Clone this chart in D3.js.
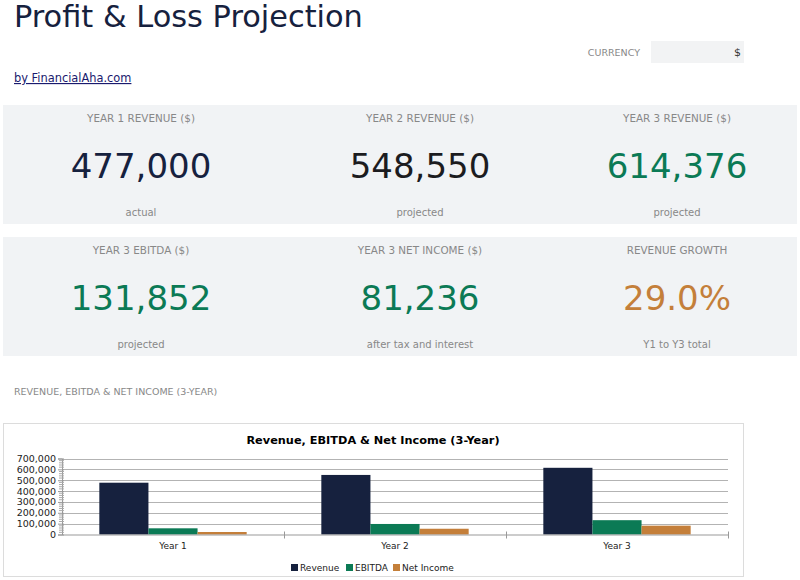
<!DOCTYPE html>
<html>
<head>
<meta charset="utf-8">
<script src="https://cdn.jsdelivr.net/npm/d3@7"></script>
<style>
  body { margin: 0; background: #fff; font-family: "DejaVu Sans", sans-serif; }
  svg { display: block; }
</style>
</head>
<body>
<svg id="page" width="800" height="580"></svg>
<script>
// KPI cards
const kpiLabels = ["YEAR 1 REVENUE ($)", "YEAR 2 REVENUE ($)", "YEAR 3 REVENUE ($)",
                   "YEAR 3 EBITDA ($)", "YEAR 3 NET INCOME ($)", "REVENUE GROWTH"];
const kpiValues = ["477,000", "548,550", "614,376", "131,852", "81,236", "29.0%"];
const kpiNotes = ["actual", "projected", "projected", "projected", "after tax and interest", "Y1 to Y3 total"];
const kpiColors = ["#16213e", "#1c1c1f", "#0b7a55", "#0b7a55", "#0b7a55", "#c47f3a"];

// chart data
const years = ["Year 1", "Year 2", "Year 3"];
const seriesNames = ["Revenue", "EBITDA", "Net Income"];
const revenue = [477000, 548550, 614376];
const ebitda = [57000, 97000, 131852];
const netIncome = [23000, 53000, 81236];
const seriesColors = ["#16213e", "#0b7a55", "#c47f3a"];
const yTicks = [0, 100000, 200000, 300000, 400000, 500000, 600000, 700000];

const svg = d3.select("#page");

// header
svg.append("text").attr("x", 14).attr("y", 27)
  .attr("font-size", 30.4).attr("fill", "#16213e")
  .text("Profit & Loss Projection");

svg.append("text").attr("x", 640).attr("y", 55.5)
  .attr("text-anchor", "end").attr("font-size", 9.5).attr("fill", "#888")
  .text("CURRENCY");
svg.append("rect").attr("x", 651).attr("y", 41).attr("width", 93).attr("height", 22)
  .attr("fill", "#f2f3f4");
svg.append("text").attr("x", 741).attr("y", 56)
  .attr("text-anchor", "end").attr("font-size", 11).attr("fill", "#333")
  .text("$");

svg.append("text").attr("x", 14).attr("y", 82)
  .attr("font-size", 11.4).attr("fill", "#1a1a6e")
  .attr("text-decoration", "underline")
  .text("by FinancialAha.com");

// KPI panels
const colCenters = [141, 420, 677];
const panelTops = [105, 237];
panelTops.forEach(top => {
  svg.append("rect").attr("x", 3).attr("y", top).attr("width", 794).attr("height", 119)
    .attr("fill", "#f1f3f5");
});

const cards = svg.append("g").selectAll("g")
  .data(kpiValues.map((v, i) => ({ value: v, label: kpiLabels[i], note: kpiNotes[i], color: kpiColors[i], i })))
  .enter().append("g")
  .attr("transform", d => `translate(${colCenters[d.i % 3]},${panelTops[Math.floor(d.i / 3)]})`);

cards.append("text").attr("y", 16.5).attr("text-anchor", "middle")
  .attr("font-size", 10.4).attr("fill", "#888").text(d => d.label);
cards.append("text").attr("y", 73).attr("text-anchor", "middle")
  .attr("font-size", 34).attr("fill", d => d.color).text(d => d.value);
cards.append("text").attr("y", 111).attr("text-anchor", "middle")
  .attr("font-size", 10).attr("fill", "#888").text(d => d.note);

// section label
svg.append("text").attr("x", 14).attr("y", 395)
  .attr("font-size", 9.5).attr("fill", "#888")
  .text("REVENUE, EBITDA & NET INCOME (3-YEAR)");

// chart box
svg.append("rect").attr("x", 3.5).attr("y", 423.5).attr("width", 740).attr("height", 153)
  .attr("fill", "#fff").attr("stroke", "#dcdcdc");

svg.append("text").attr("x", 373).attr("y", 444)
  .attr("text-anchor", "middle").attr("font-size", 11.3).attr("font-weight", "bold")
  .attr("fill", "#000")
  .text("Revenue, EBITDA & Net Income (3-Year)");

const plot = { left: 62, right: 728, top: 458.5, bottom: 534.5 };

const y = d3.scaleLinear().domain([0, 700000]).range([plot.bottom, plot.top]);
const x0 = d3.scaleBand().domain(years).range([plot.left, plot.right]).paddingInner(0).paddingOuter(0);
const x1 = d3.scaleBand().domain(seriesNames).range([0, x0.bandwidth()]).paddingInner(0).paddingOuter(0.76);

// gridlines
svg.append("g").selectAll("line").data(yTicks.slice(1)).enter().append("line")
  .attr("x1", plot.left).attr("x2", plot.right)
  .attr("y1", d => Math.round(y(d)) + 0.5).attr("y2", d => Math.round(y(d)) + 0.5)
  .attr("stroke", "#b3b3b3");

// bars
const table = years.map((yr, i) => ({ year: yr, values: [revenue[i], ebitda[i], netIncome[i]] }));
svg.append("g").selectAll("g").data(table).enter().append("g")
  .attr("transform", d => `translate(${x0(d.year)},0)`)
  .selectAll("rect")
  .data(d => d.values.map((v, k) => ({ name: seriesNames[k], value: v, color: seriesColors[k] })))
  .enter().append("rect")
  .attr("x", d => x1(d.name))
  .attr("width", x1.bandwidth())
  .attr("y", d => y(d.value))
  .attr("height", d => y(0) - y(d.value))
  .attr("fill", d => d.color);

// y axis with minor ticks
const yAxis = svg.append("g").attr("transform", `translate(${plot.left},0)`)
  .call(d3.axisLeft(y).tickValues(yTicks).tickFormat(d3.format(",")).tickSize(4).tickPadding(2))
  .call(g => g.select(".domain").attr("stroke", "#999"))
  .call(g => g.selectAll(".tick line").attr("stroke", "#999").attr("x2", 2).attr("x1", -4))
  .call(g => g.selectAll("text").attr("font-size", 9.5).attr("fill", "#222")
    .attr("font-family", "DejaVu Sans, sans-serif"));

const minor = d3.range(0, 700001, 20000).filter(v => v % 100000 !== 0);
yAxis.append("g").selectAll("line").data(minor).enter().append("line")
  .attr("x1", -3).attr("x2", 2)
  .attr("y1", d => y(d)).attr("y2", d => y(d))
  .attr("stroke", "#aaa");

// x axis
svg.append("g").attr("transform", `translate(0,${plot.bottom})`)
  .call(d3.axisBottom(x0).tickSize(0).tickPadding(8))
  .call(g => g.select(".domain").attr("stroke", "#999"))
  .call(g => g.selectAll("text").attr("font-size", 9).attr("fill", "#222")
    .attr("font-family", "DejaVu Sans, sans-serif"));

svg.append("g").selectAll("line").data(years.slice(1).map(d => x0(d)).concat([plot.right]))
  .enter().append("line")
  .attr("x1", d => d + 0.5).attr("x2", d => d + 0.5)
  .attr("y1", plot.bottom - 3).attr("y2", plot.bottom + 4)
  .attr("stroke", "#999");

// legend
const legendWidths = [55, 47, 0];
let lx = 291;
const legend = svg.append("g");
seriesNames.forEach((name, k) => {
  legend.append("rect").attr("x", lx).attr("y", 564).attr("width", 7).attr("height", 7)
    .attr("fill", seriesColors[k]);
  legend.append("text").attr("x", lx + 9).attr("y", 571)
    .attr("font-size", 9).attr("fill", "#222").text(name);
  lx += legendWidths[k];
});
</script>
</body>
</html>
